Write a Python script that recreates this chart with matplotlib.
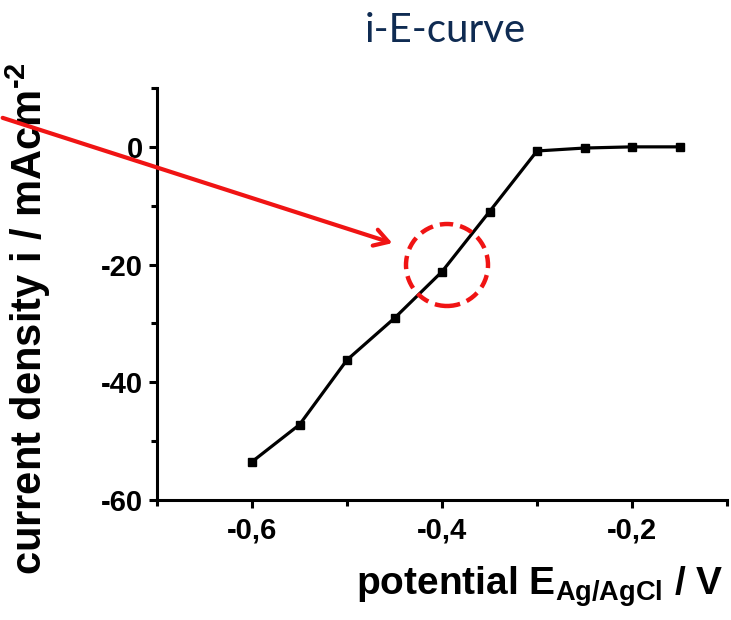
import matplotlib
matplotlib.use("Agg")
import matplotlib.pyplot as plt
from matplotlib.patches import FancyArrowPatch, Ellipse
from matplotlib.ticker import MultipleLocator, FuncFormatter

plt.rcParams['font.family'] = ['Liberation Sans', 'DejaVu Sans']
plt.rcParams['font.weight'] = 'bold'
plt.rcParams['axes.unicode_minus'] = False
plt.rcParams['mathtext.fontset'] = 'custom'
plt.rcParams['mathtext.rm'] = 'Liberation Sans:bold'
plt.rcParams['mathtext.bf'] = 'Liberation Sans:bold'
plt.rcParams['mathtext.default'] = 'regular'

# potential (V vs Ag/AgCl) and current density (mA/cm^2)
potential = [-0.60, -0.55, -0.50, -0.45, -0.40, -0.35, -0.30, -0.25, -0.20, -0.15]
current = [-53.5, -47.2, -36.2, -29.1, -21.2, -11.0, -0.7, -0.2, 0.0, 0.0]

xticks = [-0.6, -0.4, -0.2]
yticks = [0, -20, -40, -60]

fig = plt.figure(figsize=(7.31, 6.20), dpi=100)
ax = fig.add_axes([157/731, 1-500/620, 570/731, 412/620])

ax.plot(potential, current, color='black', lw=2.3, marker='s', ms=6,
        clip_on=False, zorder=3)

ax.set_xlim(-0.7, -0.1)
ax.set_ylim(-60, 10)
ax.set_xticks(xticks)
ax.set_yticks(yticks)
ax.xaxis.set_minor_locator(MultipleLocator(0.1))
ax.yaxis.set_minor_locator(MultipleLocator(10))
ax.xaxis.set_major_formatter(FuncFormatter(lambda v, p: ('%.1f' % v).replace('.', ',')))
ax.yaxis.set_major_formatter(FuncFormatter(lambda v, p: '%d' % round(v)))

for s in ['top', 'right']:
    ax.spines[s].set_visible(False)
for s in ['left', 'bottom']:
    ax.spines[s].set_linewidth(2.2)
ax.tick_params(which='major', length=6, width=2.2, labelsize=21)
ax.tick_params(axis='y', which='major', pad=4)
ax.tick_params(axis='x', which='major', pad=6)
ax.tick_params(which='minor', length=4, width=2.2)
for lab in ax.get_xticklabels() + ax.get_yticklabels():
    lab.set_fontweight('bold')

ax.set_xlabel('potential E$_{\\mathregular{Ag/AgCl}}$ / V', fontsize=28,
              fontweight='bold')
ax.xaxis.set_label_coords(0.672, -0.155)
ax.set_ylabel('current density i / mAcm$^{\\text{-2}}$', fontsize=30,
              fontweight='bold', va='center')
ax.yaxis.set_label_coords(-0.225, 0.44)

fig.text(445/731, 1-30/620, 'i-E-curve', ha='center', va='center',
         fontsize=29, color='#0f2b52', fontfamily='Lato', fontweight='normal')

# red annotation arrow and dashed circle (figure coordinates)
arrow = FancyArrowPatch((0, 1-117/620), (395/731, 1-244/620),
                        transform=fig.transFigure, arrowstyle='->,head_length=10,head_width=6',
                        color='#f01414', lw=3, mutation_scale=1)
fig.add_artist(arrow)
circle = Ellipse((447/731, 1-265/620), 82/731, 82/620, transform=fig.transFigure,
                 fill=False, edgecolor='#f01414', lw=3.2, linestyle=(0, (3, 1.6)))
fig.add_artist(circle)

fig.savefig('out.png', dpi=100)
